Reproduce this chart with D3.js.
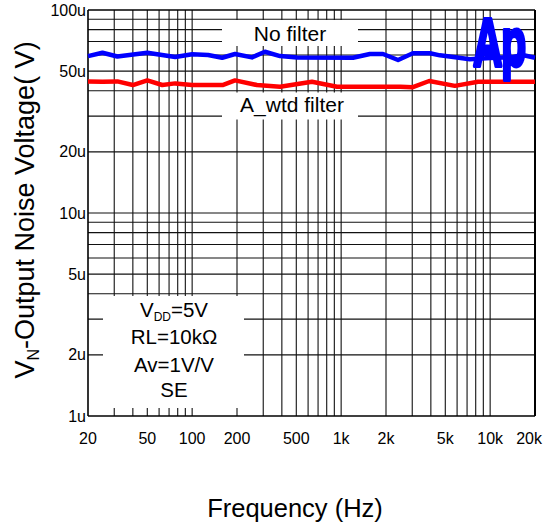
<!DOCTYPE html>
<html><head><meta charset="utf-8">
<script src="https://cdn.jsdelivr.net/npm/d3@7"></script>
<style>body{margin:0;background:#fff}svg{display:block}text{font-family:"Liberation Sans",Arial,sans-serif}</style>
</head><body><div id="chart"></div>
<script>
// ---- data (µV vs Hz) ----
const noFilterFreq = [20,25,31.5,50,77,100,128,159,194,252,308,389,506,1200,1560,1910,2410,3030,3950,4600,6000,7300,10000,14000,16500,20000];
const noFilterVals = [59.3,61.6,59,61.6,58.7,60.5,60,58.2,60.7,58.4,62.3,59.3,58.4,58.2,60.7,60.7,56.7,61.2,61.2,59.8,58.4,57.2,58,58.5,60,58.2];
const aWtdFreq = [20,25,31.5,40,50,63,77,100,160,194,272,389,637,938,2500,3000,3900,5800,8300,20000];
const aWtdVals = [44.5,44.3,44.5,42.7,45,42.7,43.5,42.7,42.7,45,42.7,41.9,44.3,41.9,41.9,41.6,44.7,42.3,44.3,44.3];
const xTickVals = [20,50,100,200,500,1000,2000,5000,10000,20000];
const xTickLabels = ["20","50","100","200","500","1k","2k","5k","10k","20k"];
const yTickVals = [1,2,5,10,20,50,100];
const yTickLabels = ["1u","2u","5u","10u","20u","50u","100u"];
const condLines = ["VDD=5V","RL=10kΩ","Av=1V/V","SE"];

const W=549,H=527;
const svg=d3.select("#chart").append("svg").attr("width",W).attr("height",H);
svg.append("rect").attr("width",W).attr("height",H).attr("fill","#fff");
const x=d3.scaleLog().domain([20,20000]).range([88,535]);
const y=d3.scaleLog().domain([1,100]).range([416,10]);

// grid
const xGrid=[];for(let d=10;d<=10000;d*=10)for(let k=1;k<=9;k++){const v=d*k;if(v>20&&v<20000)xGrid.push(v);}
const yGrid=[];for(let d=1;d<=10;d*=10)for(let k=1;k<=9;k++){const v=d*k;if(v>1&&v<100)yGrid.push(v);}
const g=svg.append("g");
g.selectAll(".vg").data(xGrid).join("line").attr("x1",d=>x(d)).attr("x2",d=>x(d)).attr("y1",10).attr("y2",416).attr("stroke","#111").attr("stroke-width",1.1);
g.selectAll(".hg").data(yGrid).join("line").attr("x1",88).attr("x2",535).attr("y1",d=>y(d)).attr("y2",d=>y(d)).attr("stroke","#111").attr("stroke-width",1.1);

// white label boxes hiding grid
const boxes=[[222,20,136,26],[222,92.5,136,27],[103,296,141,112]];
svg.selectAll(".bx").data(boxes).join("rect").attr("x",d=>d[0]).attr("y",d=>d[1]).attr("width",d=>d[2]).attr("height",d=>d[3]).attr("fill","#fff");

// frame
svg.append("line").attr("x1",88).attr("x2",88).attr("y1",10).attr("y2",416).attr("stroke","#000").attr("stroke-width",1.6);
svg.append("line").attr("x1",535).attr("x2",535).attr("y1",10).attr("y2",416).attr("stroke","#000").attr("stroke-width",2);
svg.append("line").attr("x1",88).attr("x2",535).attr("y1",10).attr("y2",10).attr("stroke","#000").attr("stroke-width",1.6);
svg.append("line").attr("x1",88).attr("x2",535).attr("y1",416).attr("y2",416).attr("stroke","#000").attr("stroke-width",1.6);

// data lines
const line=d3.line().x(d=>x(d[0])).y(d=>y(d[1]));
svg.append("path").datum(noFilterFreq.map((f,i)=>[f,noFilterVals[i]])).attr("d",line).attr("fill","none").attr("stroke","#0000ff").attr("stroke-width",4.5).attr("stroke-linejoin","round");
svg.append("path").datum(aWtdFreq.map((f,i)=>[f,aWtdVals[i]])).attr("d",line).attr("fill","none").attr("stroke","#ff0000").attr("stroke-width",4.5).attr("stroke-linejoin","round");

// tick labels
svg.selectAll(".xt").data(xTickVals).join("text").attr("x",(d,i)=>i===xTickVals.length-1?542:x(d)).attr("y",444)
  .attr("text-anchor",(d,i)=>i===xTickVals.length-1?"end":"middle").attr("font-size",16).text((d,i)=>xTickLabels[i]);
svg.selectAll(".yt").data(yTickVals).join("text").attr("x",86).attr("y",d=>y(d)+5.5)
  .attr("text-anchor","end").attr("font-size",16).text((d,i)=>yTickLabels[i]);

// axis titles
svg.append("text").attr("x",295).attr("y",517).attr("text-anchor","middle").attr("font-size",25.5).text("Frequency (Hz)");
const yl=svg.append("text").attr("transform","translate(34,210) rotate(-90)").attr("text-anchor","middle").attr("font-size",27);
yl.append("tspan").text("V");
yl.append("tspan").attr("font-size",16).attr("dy",5).text("N");
yl.append("tspan").attr("dy",-5).text("-Output Noise Voltage( V)");

// curve labels
svg.append("text").attr("x",290).attr("y",40.5).attr("text-anchor","middle").attr("font-size",21).text("No filter");
svg.append("text").attr("x",292).attr("y",111.5).attr("text-anchor","middle").attr("font-size",21).text("A_wtd filter");

// conditions
const cy=[317,344,372,397];
condLines.forEach((s,i)=>{
  const t=svg.append("text").attr("x",174).attr("y",cy[i]).attr("text-anchor","middle").attr("font-size",20.5);
  if(s.startsWith("VDD")){t.append("tspan").text("V");t.append("tspan").attr("font-size",12).attr("dy",4).text("DD");t.append("tspan").attr("dy",-4).text(s.slice(3));}
  else t.text(s);
});

// logo
svg.append("text").attr("transform","translate(499,66) scale(0.6,1)").attr("text-anchor","middle").attr("font-size",68).attr("font-weight","bold")
  .attr("fill","#0000ff").attr("stroke","#0000ff").attr("stroke-width",4).attr("stroke-linejoin","round").attr("letter-spacing",-2).text("Ap");
</script></body></html>
